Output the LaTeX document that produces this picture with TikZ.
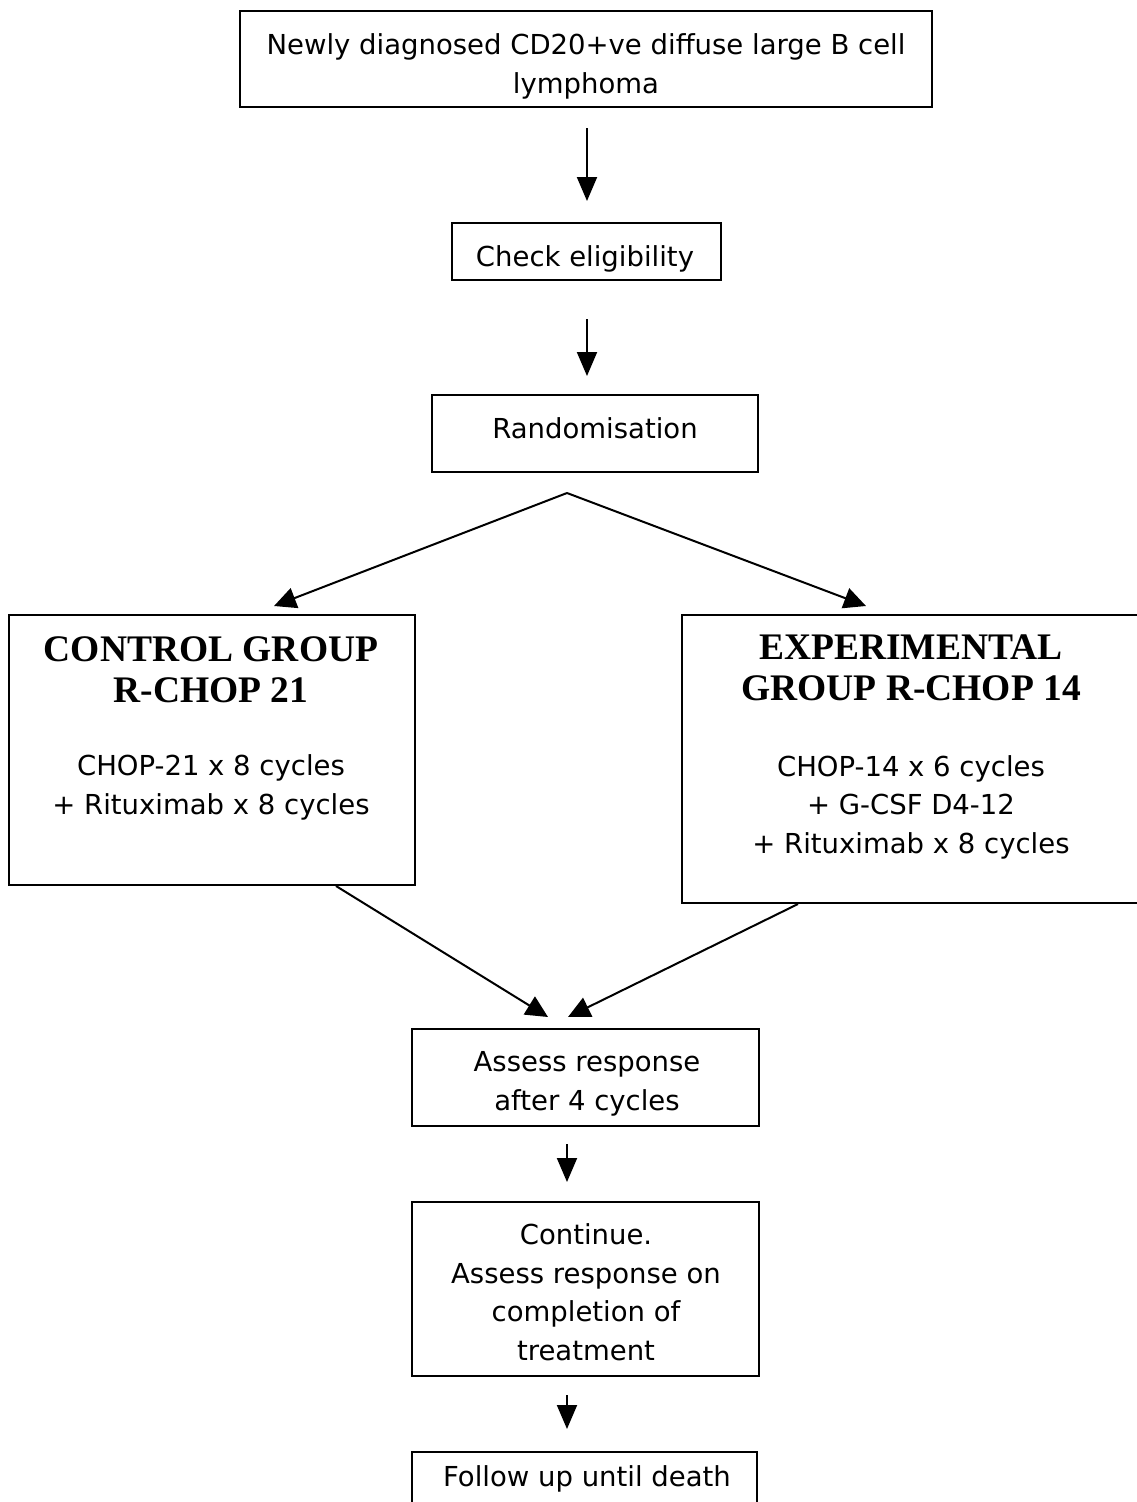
\documentclass[tikz,border=0pt]{standalone}
\usepackage{fontspec}
\setmainfont{DejaVu Sans}
\newfontfamily\titlefont{Liberation Serif}
\usetikzlibrary{arrows.meta,calc}
\begin{document}
\begin{tikzpicture}[x=1pt,y=-1pt,
  box/.style={draw,line width=2pt,inner sep=0pt},
  txt/.style={inner sep=0pt,anchor=base,align=center,font=\fontsize{27.5pt}{38.5pt}\selectfont},
  ttl/.style={inner sep=0pt,anchor=base,align=center,font=\titlefont\bfseries\fontsize{37.5pt}{40.5pt}\selectfont},
  arr/.style={line width=2pt,-{Triangle[length=24pt,width=20pt]}},
  darr/.style={line width=2pt,-{Triangle[length=22pt,width=21pt]}}]
\path[use as bounding box,clip] (0,0) rectangle (1137,1502);
\fill[white] (0,0) rectangle (1137,1502);
% boxes
\node[box,minimum width=692pt,minimum height=96pt] (top) at (586,59) {};
\node[box,minimum width=269pt,minimum height=57pt] (elig) at (586.5,251.5) {};
\node[box,minimum width=326pt,minimum height=77pt] (rand) at (595,433.5) {};
\node[box,minimum width=406pt,minimum height=270pt] (ctrl) at (212,750) {};
\node[box,minimum width=460pt,minimum height=288pt] (exp) at (912,759) {};
\node[box,minimum width=347pt,minimum height=97pt] (assess) at (585.5,1077.5) {};
\node[box,minimum width=347pt,minimum height=174pt] (cont) at (585.5,1289) {};
\node[box,minimum width=345pt,minimum height=78pt] (follow) at (584.5,1491) {};
% texts (anchor at baseline of last line)
\node[txt] (topt) at (586,93) {Newly diagnosed CD20+ve diffuse large B cell\\lymphoma};
\begin{scope}
\clip (452,223) rectangle (721,271);
\node[txt] (eligt) at (585,266) {Check eligibility};
\end{scope}
\node[txt] (randt) at (595,438) {Randomisation};
\node[ttl] (ctrlt) at (211,702) {CONTROL GROUP\\R-CHOP 21};
\node[txt] (ctrlb) at (211,814) {CHOP-21 x 8 cycles\\+ Rituximab x 8 cycles};
\node[ttl] (expt) at (911,700) {EXPERIMENTAL\\GROUP R-CHOP 14};
\node[txt] (expb) at (911,853) {CHOP-14 x 6 cycles\\+ G-CSF D4-12\\+ Rituximab x 8 cycles};
\node[txt] (assesst) at (587,1110) {Assess response\\after 4 cycles};
\node[txt] (contt) at (586,1360) {Continue.\\Assess response on\\completion of\\treatment};
\node[txt] (followt) at (587,1486) {Follow up until death};
% connectors
\draw[arr] ($(top.south)+(1,20)$) -- ($(elig.north)+(0.5,-21)$);
\draw[arr] ($(elig.south)+(0.5,38)$) -- ($(elig.south)+(0.5,95)$);
\coordinate (split) at ($(rand.south)+(-28,20)$);
\coordinate (ltip) at ($(ctrl.north)+(62,-8)$);
\coordinate (rtip) at ($(exp.north)+(-46,-8)$);
\draw[darr] (split) -- (ltip);
\draw[darr] (split) -- (rtip);
\draw[darr] ($(ctrl.south)+(124,0)$) -- ($(assess.north)+(-37.5,-11)$);
\draw[darr] ($(exp.south)+(-114,0)$) -- ($(assess.north)+(-17.5,-11)$);
\draw[arr] ($(assess.south)+(-18.5,17)$) -- ($(cont.north)+(-18.5,-19)$);
\draw[arr] ($(cont.south)+(-18.5,18)$) -- ($(follow.north)+(-17.5,-22)$);
\end{tikzpicture}
\end{document}
